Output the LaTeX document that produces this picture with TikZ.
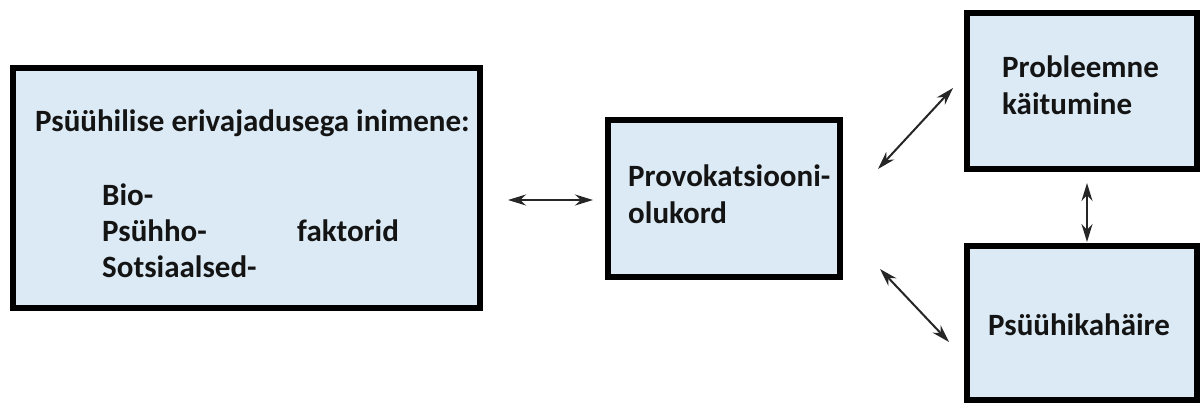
\documentclass[tikz,border=0pt]{standalone}
\usepackage{fontspec}
\setmainfont{Carlito}
\usetikzlibrary{arrows.meta}
\definecolor{boxfill}{RGB}{219,234,244}
\tikzset{
  box/.style={draw=black, line width=6pt, fill=boxfill, inner sep=0pt},
  lbl/.style={anchor=base west, inner sep=0pt, font=\fontsize{31}{37}\selectfont\bfseries, text=black!92},
  conn/.style={line width=2pt, black!85, {Stealth[length=18pt,width=11pt]}-{Stealth[length=18pt,width=11pt]}}
}
\begin{document}
\begin{tikzpicture}[x=1pt,y=-1pt]
\useasboundingbox (0,0) rectangle (1201,403);
% boxes
\node[box, minimum width=467pt, minimum height=240pt] (person) at (246.5,188) {};
\node[box, minimum width=232pt, minimum height=157pt] (prov) at (724,198.5) {};
\node[box, minimum width=230pt, minimum height=156pt] (prob) at (1082,91) {};
\node[box, minimum width=230pt, minimum height=154pt] (hair) at (1082,323) {};
% texts
\node[lbl] (t1) at (35,132) {Psüühilise erivajadusega inimene:};
\node[lbl] (t2) at (102,206) {Bio-};
\node[lbl] (t3) at (102,242) {Psühho-};
\node[lbl] (t4) at (102,277) {Sotsiaalsed-};
\node[lbl] (t5) at (297,242) {faktorid};
\node[lbl] (t6) at (628,187) {Provokatsiooni-};
\node[lbl] (t7) at (628,224) {olukord};
\node[lbl] (t8) at (1002,78) {Probleemne};
\node[lbl] (t9) at (1002,115) {käitumine};
\node[lbl] (t10) at (988,335) {Psüühikahäire};
% arrow end points
\coordinate (a1) at (508,200);
\coordinate (a2) at (593,200);
\coordinate (b1) at (878,169);
\coordinate (b2) at (953,88);
\coordinate (c1) at (880,269);
\coordinate (c2) at (949,342);
\coordinate (d1) at (1087,183);
\coordinate (d2) at (1087,242);
\draw[conn] (a1) -- (a2);
\draw[conn] (b1) -- (b2);
\draw[conn] (c1) -- (c2);
\draw[conn] (d1) -- (d2);
\end{tikzpicture}
\end{document}
